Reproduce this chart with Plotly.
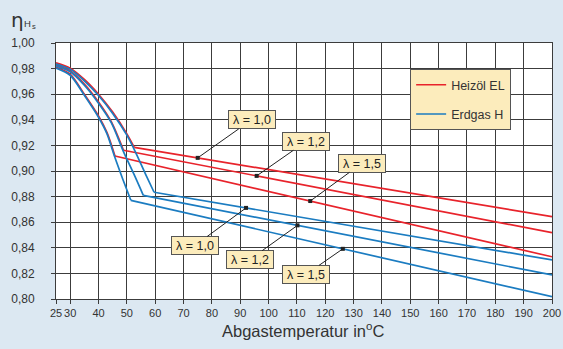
import numpy as np
import plotly.graph_objects as go

# ---------------- data ----------------
x_ticks = [25, 30, 40, 50, 60, 70, 80, 90, 100, 110, 120, 130, 140, 150, 160, 170, 180, 190, 200]
y_ticks = [0.80, 0.82, 0.84, 0.86, 0.88, 0.90, 0.92, 0.94, 0.96, 0.98, 1.00]

# Heizöl EL  (last point = straight line end at 200 °C, the point before it = knee)
oil_l10_x = [25, 30, 35, 40, 45, 50, 52.6, 200]
oil_l10_y = [0.9845, 0.9803, 0.9715, 0.9600, 0.9460, 0.9290, 0.9185, 0.8643]
oil_l12_x = [25, 30, 35, 40, 44.5, 48.8, 200]
oil_l12_y = [0.9829, 0.9782, 0.9680, 0.9540, 0.9385, 0.9162, 0.8518]
oil_l15_x = [25, 30, 35, 40, 43, 45.8, 200]
oil_l15_y = [0.9813, 0.9757, 0.9600, 0.9430, 0.9300, 0.9117, 0.8330]

# Erdgas H
gas_l10_x = [25, 30, 35, 40, 45, 50, 53, 56.5, 59.6, 200]
gas_l10_y = [0.9836, 0.9795, 0.9705, 0.9590, 0.9450, 0.9280, 0.9150, 0.8980, 0.8834, 0.8305]
gas_l12_x = [25, 30, 35, 40, 44.5, 48.8, 52.5, 55.8, 200]
gas_l12_y = [0.9822, 0.9775, 0.9670, 0.9530, 0.9378, 0.9152, 0.8975, 0.8810, 0.8188]
gas_l15_x = [25, 30, 35, 40, 43, 45.8, 48.5, 51.4, 200]
gas_l15_y = [0.9805, 0.9748, 0.9592, 0.9420, 0.9290, 0.9105, 0.8940, 0.8771, 0.8018]

label_texts = ["λ = 1,0", "λ = 1,2", "λ = 1,5"]
oil_label_anchor_x = [75, 95.8, 114.7]
gas_label_anchor_x = [92.05, 110.2, 126.2]

# ---------------- styles ----------------
RED = "#e8232b"
BLUE = "#1b7cc1"
GRID = "#3c3c3c"
TXT = "#333333"
BOX = "#fcecbc"
FONT = "Liberation Sans, Arial, sans-serif"

fig = go.Figure()

series = [
    (oil_l10_x, oil_l10_y, RED, "Heizöl EL", True, "oil"),
    (oil_l12_x, oil_l12_y, RED, "Heizöl EL", False, "oil"),
    (oil_l15_x, oil_l15_y, RED, "Heizöl EL", False, "oil"),
    (gas_l10_x, gas_l10_y, BLUE, "Erdgas H", True, "gas"),
    (gas_l12_x, gas_l12_y, BLUE, "Erdgas H", False, "gas"),
    (gas_l15_x, gas_l15_y, BLUE, "Erdgas H", False, "gas"),
]
for xs, ys, col, name, show, grp in series:
    # curved part up to the knee (smooth)
    fig.add_trace(go.Scatter(x=xs[:-1], y=ys[:-1], mode="lines", name=name, legendgroup=grp,
                             showlegend=show, line=dict(color=col, width=1.7, shape="spline",
                                                        smoothing=0.8),
                             hoverinfo="skip"))
    # straight part from the knee to 200 °C
    fig.add_trace(go.Scatter(x=xs[-2:], y=ys[-2:], mode="lines", name=name, legendgroup=grp,
                             showlegend=False, line=dict(color=col, width=1.7),
                             hoverinfo="skip"))

# label anchors on the straight parts
oil_sets = [(oil_l10_x, oil_l10_y), (oil_l12_x, oil_l12_y), (oil_l15_x, oil_l15_y)]
gas_sets = [(gas_l10_x, gas_l10_y), (gas_l12_x, gas_l12_y), (gas_l15_x, gas_l15_y)]
oil_anchor_y = [float(np.interp(ax, xs, ys)) for ax, (xs, ys) in zip(oil_label_anchor_x, oil_sets)]
gas_anchor_y = [float(np.interp(ax, xs, ys)) for ax, (xs, ys) in zip(gas_label_anchor_x, gas_sets)]

# label box centres (layout positions, data coords)
oil_box = [(94.0, 0.9400), (113.3, 0.9232), (132.9, 0.9060)]
gas_box = [(74.0, 0.8418), (93.3, 0.8307), (113.2, 0.8192)]

fig.add_trace(go.Scatter(x=oil_label_anchor_x + gas_label_anchor_x,
                         y=oil_anchor_y + gas_anchor_y, mode="markers",
                         marker=dict(symbol="square", size=4, color="#222"),
                         showlegend=False, hoverinfo="skip"))

annotations = []
for txt, axx, ayy, (bx, by) in zip(label_texts * 2,
                                   oil_label_anchor_x + gas_label_anchor_x,
                                   oil_anchor_y + gas_anchor_y,
                                   oil_box + gas_box):
    annotations.append(dict(
        x=axx, y=ayy, xref="x", yref="y", ax=bx, ay=by, axref="x", ayref="y",
        text=txt, showarrow=True, arrowhead=0, arrowwidth=1, arrowcolor="#222",
        bgcolor=BOX, bordercolor="#555", borderwidth=1, borderpad=1,
        width=44, height=15, font=dict(family=FONT, size=12.5, color="#222")))

# axis titles
annotations.append(dict(x=0.498, y=-0.121, xref="paper", yref="paper",
                        text="Abgastemperatur in<sup>o</sup>C", showarrow=False,
                        font=dict(family=FONT, size=16.5, color=TXT),
                        xanchor="center", yanchor="middle"))
annotations.append(dict(x=-0.078, y=1.09, xref="paper", yref="paper", text="η",
                        showarrow=False, font=dict(family="DejaVu Sans", size=20, color=TXT),
                        xanchor="center", yanchor="middle"))
annotations.append(dict(x=-0.058, y=1.075, xref="paper", yref="paper", text="H",
                        showarrow=False, font=dict(family=FONT, size=9.5, color=TXT),
                        xanchor="center", yanchor="middle"))
annotations.append(dict(x=-0.045, y=1.066, xref="paper", yref="paper", text="s",
                        showarrow=False, font=dict(family=FONT, size=7.5, color=TXT),
                        xanchor="center", yanchor="middle"))

fig.update_layout(
    width=563, height=349,
    margin=dict(l=56, r=11, t=43, b=50, autoexpand=False),
    paper_bgcolor="#dce8f2", plot_bgcolor="white",
    separators=",.",
    font=dict(family=FONT, size=12, color=TXT),
    showlegend=True,
    legend=dict(x=0.714, y=0.898, xanchor="left", yanchor="top",
                bgcolor=BOX, bordercolor="#555", borderwidth=1,
                font=dict(family=FONT, size=12.5, color=TXT)),
    annotations=annotations,
)
fig.update_xaxes(range=[25, 200], tickvals=x_ticks, ticktext=[str(v) for v in x_ticks],
                 tickangle=0, automargin=False,
                 showgrid=True, gridcolor=GRID, gridwidth=1, zeroline=False,
                 ticks="outside", ticklen=4, tickcolor=GRID,
                 showline=True, linecolor=GRID, mirror=True,
                 tickfont=dict(family=FONT, size=11, color=TXT))
fig.update_yaxes(range=[0.80, 1.00], tickvals=y_ticks, tickformat=".2f",
                 automargin=False,
                 showgrid=True, gridcolor=GRID, gridwidth=1, zeroline=False,
                 ticks="outside", ticklen=4, tickcolor=GRID,
                 showline=True, linecolor=GRID, mirror=True,
                 ticklabelstandoff=14,
                 tickfont=dict(family=FONT, size=12, color=TXT))

fig.write_html("out.html", config={"displayModeBar": False},
               post_script="document.body.style.margin='0';document.body.style.overflow='hidden';")
